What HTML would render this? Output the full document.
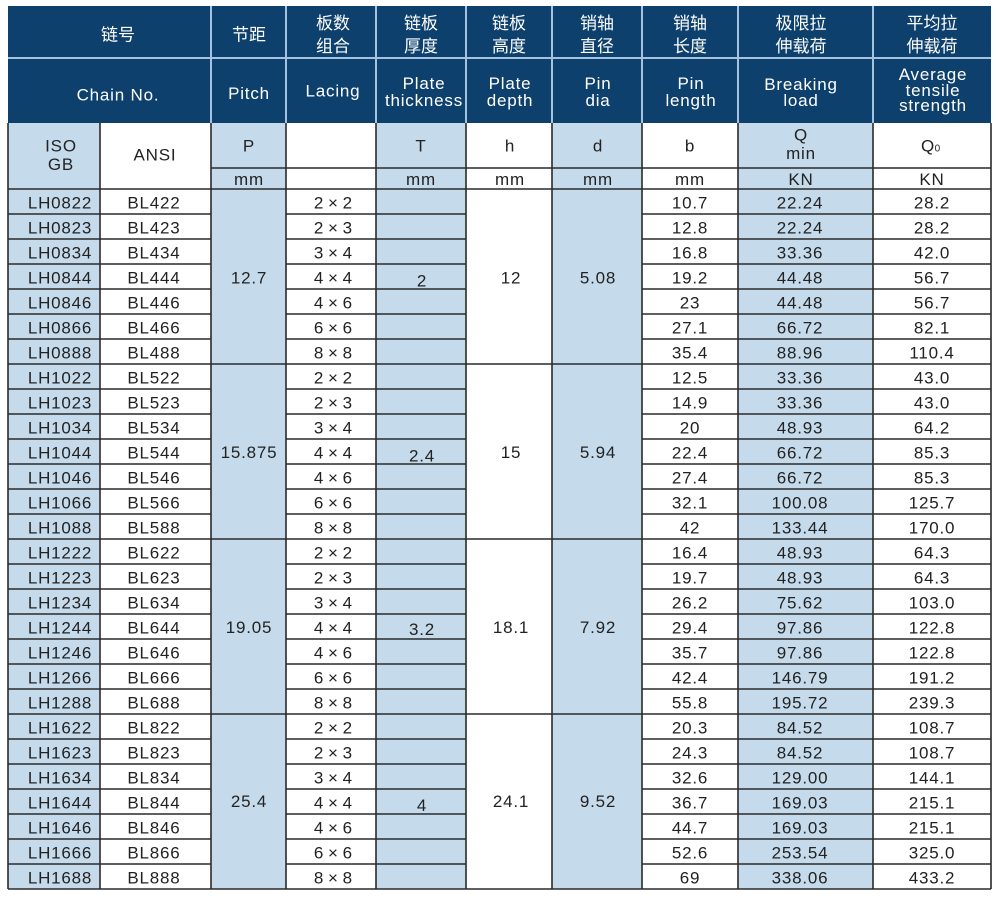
<!DOCTYPE html>
<html>
<head>
<meta charset="utf-8">
<style>
html,body{margin:0;padding:0;background:#fff;}
svg{display:block;}
.h{font-family:"Liberation Sans","Noto Sans CJK SC",sans-serif;font-size:17px;fill:#fff;text-anchor:middle;}
.he{font-family:"Liberation Sans",sans-serif;font-size:17px;fill:#fff;text-anchor:middle;letter-spacing:0.8px;}
.t{font-family:"Liberation Sans",sans-serif;font-size:17px;fill:#222;text-anchor:middle;letter-spacing:0.8px;}
.l{font-family:"Liberation Sans",sans-serif;font-size:17px;fill:#222;text-anchor:middle;}
</style>
</head>
<body>
<svg width="1000" height="903" viewBox="0 0 1000 903" xmlns="http://www.w3.org/2000/svg">
<rect x="0" y="0" width="1000" height="903" fill="#fff"/>
<!-- header -->
<rect x="8" y="6" width="983" height="117" fill="#0d406c"/>
<g stroke="#a3c3de" stroke-width="2">
<line x1="8" y1="58" x2="991" y2="58"/>
<line x1="211" y1="6" x2="211" y2="123"/>
<line x1="286" y1="6" x2="286" y2="123"/>
<line x1="376" y1="6" x2="376" y2="123"/>
<line x1="466" y1="6" x2="466" y2="123"/>
<line x1="552" y1="6" x2="552" y2="123"/>
<line x1="642" y1="6" x2="642" y2="123"/>
<line x1="738" y1="6" x2="738" y2="123"/>
<line x1="873" y1="6" x2="873" y2="123"/>
</g>
<!-- header chinese -->
<text class="h" x="118" y="40.5">链号</text>
<text class="h" x="249" y="40.5">节距</text>
<text class="h" x="333" y="29">板数</text><text class="h" x="333" y="52">组合</text>
<text class="h" x="421" y="29">链板</text><text class="h" x="421" y="52">厚度</text>
<text class="h" x="509" y="29">链板</text><text class="h" x="509" y="52">高度</text>
<text class="h" x="597" y="29">销轴</text><text class="h" x="597" y="52">直径</text>
<text class="h" x="690" y="29">销轴</text><text class="h" x="690" y="52">长度</text>
<text class="h" x="801" y="29">极限拉</text><text class="h" x="801" y="52">伸载荷</text>
<text class="h" x="932" y="29">平均拉</text><text class="h" x="932" y="52">伸载荷</text>
<!-- header english -->
<text class="he" x="118" y="100.5">Chain No.</text>
<text class="he" x="249" y="99">Pitch</text>
<text class="he" x="333" y="96.5">Lacing</text>
<text class="he" x="424" y="89">Plate</text><text class="he" x="424" y="106">thickness</text>
<text class="he" x="510" y="89">Plate</text><text class="he" x="510" y="106">depth</text>
<text class="he" x="598" y="89">Pin</text><text class="he" x="598" y="106">dia</text>
<text class="he" x="691" y="89">Pin</text><text class="he" x="691" y="106">length</text>
<text class="he" x="801" y="90">Breaking</text><text class="he" x="801" y="106">load</text>
<text class="he" x="933" y="80">Average</text><text class="he" x="933" y="96">tensile</text><text class="he" x="933" y="111">strength</text>
<!-- body fills -->
<g fill="#c5dbec">
<rect x="8" y="123" width="92" height="766"/>
<rect x="211" y="123" width="75" height="766"/>
<rect x="376" y="123" width="90" height="766"/>
<rect x="552" y="123" width="90" height="766"/>
<rect x="738" y="123" width="135" height="766"/>
</g>
<!-- body lines -->
<g stroke="#2a2a2a" stroke-width="1.6" fill="none">
<path d="M8 123V889M100 123V889M211 123V889M286 123V889M376 123V889M466 123V889M552 123V889M642 123V889M738 123V889M873 123V889M991 123V889"/>
<path d="M211 168H991M8 189H991M8 889H991"/>
<path d="M8 214H211M286 214H466M642 214H991
M8 239H211M286 239H466M642 239H991
M8 264H211M286 264H466M642 264H991
M8 289H211M286 289H466M642 289H991
M8 314H211M286 314H466M642 314H991
M8 339H211M286 339H466M642 339H991
M8 364H991
M8 389H211M286 389H466M642 389H991
M8 414H211M286 414H466M642 414H991
M8 439H211M286 439H466M642 439H991
M8 464H211M286 464H466M642 464H991
M8 489H211M286 489H466M642 489H991
M8 514H211M286 514H466M642 514H991
M8 539H991
M8 564H211M286 564H466M642 564H991
M8 589H211M286 589H466M642 589H991
M8 614H211M286 614H466M642 614H991
M8 639H211M286 639H466M642 639H991
M8 664H211M286 664H466M642 664H991
M8 689H211M286 689H466M642 689H991
M8 714H991
M8 739H211M286 739H466M642 739H991
M8 764H211M286 764H466M642 764H991
M8 789H211M286 789H466M642 789H991
M8 814H211M286 814H466M642 814H991
M8 839H211M286 839H466M642 839H991
M8 864H211M286 864H466M642 864H991"/>
</g>
<!-- symbol row -->
<text class="t" x="61" y="151.5">ISO</text>
<text class="t" x="61" y="170">GB</text>
<text class="t" x="155" y="160.5">ANSI</text>
<text class="t" x="249" y="151.5">P</text>
<text class="t" x="421" y="151.5">T</text>
<text class="t" x="510" y="151.5">h</text>
<text class="t" x="598" y="151.5">d</text>
<text class="t" x="690" y="151.5">b</text>
<text class="t" x="801" y="140.5">Q</text>
<text class="t" x="801" y="159">min</text>
<text class="t" x="931" y="151.5">Q<tspan font-size="10" dx="-0.5">0</tspan></text>
<text class="t" x="249" y="185">mm</text>
<text class="t" x="421" y="185">mm</text>
<text class="t" x="510" y="185">mm</text>
<text class="t" x="598" y="185">mm</text>
<text class="t" x="690" y="185">mm</text>
<text class="t" x="801" y="185">KN</text>
<text class="t" x="932" y="185">KN</text>
<!-- ISO column -->
<g class="t">
<text class="t" x="60" y="208.5">LH0822</text>
<text class="t" x="60" y="233.5">LH0823</text>
<text class="t" x="60" y="258.5">LH0834</text>
<text class="t" x="60" y="283.5">LH0844</text>
<text class="t" x="60" y="308.5">LH0846</text>
<text class="t" x="60" y="333.5">LH0866</text>
<text class="t" x="60" y="358.5">LH0888</text>
<text class="t" x="60" y="383.5">LH1022</text>
<text class="t" x="60" y="408.5">LH1023</text>
<text class="t" x="60" y="433.5">LH1034</text>
<text class="t" x="60" y="458.5">LH1044</text>
<text class="t" x="60" y="483.5">LH1046</text>
<text class="t" x="60" y="508.5">LH1066</text>
<text class="t" x="60" y="533.5">LH1088</text>
<text class="t" x="60" y="558.5">LH1222</text>
<text class="t" x="60" y="583.5">LH1223</text>
<text class="t" x="60" y="608.5">LH1234</text>
<text class="t" x="60" y="633.5">LH1244</text>
<text class="t" x="60" y="658.5">LH1246</text>
<text class="t" x="60" y="683.5">LH1266</text>
<text class="t" x="60" y="708.5">LH1288</text>
<text class="t" x="60" y="733.5">LH1622</text>
<text class="t" x="60" y="758.5">LH1623</text>
<text class="t" x="60" y="783.5">LH1634</text>
<text class="t" x="60" y="808.5">LH1644</text>
<text class="t" x="60" y="833.5">LH1646</text>
<text class="t" x="60" y="858.5">LH1666</text>
<text class="t" x="60" y="883.5">LH1688</text>
</g>
<!-- ANSI column -->
<g>
<text class="t" x="154" y="208.5">BL422</text>
<text class="t" x="154" y="233.5">BL423</text>
<text class="t" x="154" y="258.5">BL434</text>
<text class="t" x="154" y="283.5">BL444</text>
<text class="t" x="154" y="308.5">BL446</text>
<text class="t" x="154" y="333.5">BL466</text>
<text class="t" x="154" y="358.5">BL488</text>
<text class="t" x="154" y="383.5">BL522</text>
<text class="t" x="154" y="408.5">BL523</text>
<text class="t" x="154" y="433.5">BL534</text>
<text class="t" x="154" y="458.5">BL544</text>
<text class="t" x="154" y="483.5">BL546</text>
<text class="t" x="154" y="508.5">BL566</text>
<text class="t" x="154" y="533.5">BL588</text>
<text class="t" x="154" y="558.5">BL622</text>
<text class="t" x="154" y="583.5">BL623</text>
<text class="t" x="154" y="608.5">BL634</text>
<text class="t" x="154" y="633.5">BL644</text>
<text class="t" x="154" y="658.5">BL646</text>
<text class="t" x="154" y="683.5">BL666</text>
<text class="t" x="154" y="708.5">BL688</text>
<text class="t" x="154" y="733.5">BL822</text>
<text class="t" x="154" y="758.5">BL823</text>
<text class="t" x="154" y="783.5">BL834</text>
<text class="t" x="154" y="808.5">BL844</text>
<text class="t" x="154" y="833.5">BL846</text>
<text class="t" x="154" y="858.5">BL866</text>
<text class="t" x="154" y="883.5">BL888</text>
</g>
<!-- merged columns -->
<text class="t" x="249" y="283.5">12.7</text>
<text class="t" x="249" y="458">15.875</text>
<text class="t" x="249" y="633">19.05</text>
<text class="t" x="249" y="807">25.4</text>
<text class="t" x="422" y="286.5">2</text>
<text class="t" x="422" y="461.5">2.4</text>
<text class="t" x="422" y="635">3.2</text>
<text class="t" x="422" y="811">4</text>
<text class="t" x="511" y="283.5">12</text>
<text class="t" x="511" y="458">15</text>
<text class="t" x="511" y="633">18.1</text>
<text class="t" x="511" y="807">24.1</text>
<text class="t" x="598" y="283.5">5.08</text>
<text class="t" x="598" y="458">5.94</text>
<text class="t" x="598" y="633">7.92</text>
<text class="t" x="598" y="807">9.52</text>
<!-- Lacing column -->
<g>
<text class="l" x="333" y="208.5">2 × 2</text>
<text class="l" x="333" y="233.5">2 × 3</text>
<text class="l" x="333" y="258.5">3 × 4</text>
<text class="l" x="333" y="283.5">4 × 4</text>
<text class="l" x="333" y="308.5">4 × 6</text>
<text class="l" x="333" y="333.5">6 × 6</text>
<text class="l" x="333" y="358.5">8 × 8</text>
<text class="l" x="333" y="383.5">2 × 2</text>
<text class="l" x="333" y="408.5">2 × 3</text>
<text class="l" x="333" y="433.5">3 × 4</text>
<text class="l" x="333" y="458.5">4 × 4</text>
<text class="l" x="333" y="483.5">4 × 6</text>
<text class="l" x="333" y="508.5">6 × 6</text>
<text class="l" x="333" y="533.5">8 × 8</text>
<text class="l" x="333" y="558.5">2 × 2</text>
<text class="l" x="333" y="583.5">2 × 3</text>
<text class="l" x="333" y="608.5">3 × 4</text>
<text class="l" x="333" y="633.5">4 × 4</text>
<text class="l" x="333" y="658.5">4 × 6</text>
<text class="l" x="333" y="683.5">6 × 6</text>
<text class="l" x="333" y="708.5">8 × 8</text>
<text class="l" x="333" y="733.5">2 × 2</text>
<text class="l" x="333" y="758.5">2 × 3</text>
<text class="l" x="333" y="783.5">3 × 4</text>
<text class="l" x="333" y="808.5">4 × 4</text>
<text class="l" x="333" y="833.5">4 × 6</text>
<text class="l" x="333" y="858.5">6 × 6</text>
<text class="l" x="333" y="883.5">8 × 8</text>
</g>
<!-- b column -->
<g>
<text class="t" x="690" y="208.5">10.7</text>
<text class="t" x="690" y="233.5">12.8</text>
<text class="t" x="690" y="258.5">16.8</text>
<text class="t" x="690" y="283.5">19.2</text>
<text class="t" x="690" y="308.5">23</text>
<text class="t" x="690" y="333.5">27.1</text>
<text class="t" x="690" y="358.5">35.4</text>
<text class="t" x="690" y="383.5">12.5</text>
<text class="t" x="690" y="408.5">14.9</text>
<text class="t" x="690" y="433.5">20</text>
<text class="t" x="690" y="458.5">22.4</text>
<text class="t" x="690" y="483.5">27.4</text>
<text class="t" x="690" y="508.5">32.1</text>
<text class="t" x="690" y="533.5">42</text>
<text class="t" x="690" y="558.5">16.4</text>
<text class="t" x="690" y="583.5">19.7</text>
<text class="t" x="690" y="608.5">26.2</text>
<text class="t" x="690" y="633.5">29.4</text>
<text class="t" x="690" y="658.5">35.7</text>
<text class="t" x="690" y="683.5">42.4</text>
<text class="t" x="690" y="708.5">55.8</text>
<text class="t" x="690" y="733.5">20.3</text>
<text class="t" x="690" y="758.5">24.3</text>
<text class="t" x="690" y="783.5">32.6</text>
<text class="t" x="690" y="808.5">36.7</text>
<text class="t" x="690" y="833.5">44.7</text>
<text class="t" x="690" y="858.5">52.6</text>
<text class="t" x="690" y="883.5">69</text>
</g>
<!-- Q column -->
<g>
<text class="t" x="800" y="208.5">22.24</text>
<text class="t" x="800" y="233.5">22.24</text>
<text class="t" x="800" y="258.5">33.36</text>
<text class="t" x="800" y="283.5">44.48</text>
<text class="t" x="800" y="308.5">44.48</text>
<text class="t" x="800" y="333.5">66.72</text>
<text class="t" x="800" y="358.5">88.96</text>
<text class="t" x="800" y="383.5">33.36</text>
<text class="t" x="800" y="408.5">33.36</text>
<text class="t" x="800" y="433.5">48.93</text>
<text class="t" x="800" y="458.5">66.72</text>
<text class="t" x="800" y="483.5">66.72</text>
<text class="t" x="800" y="508.5">100.08</text>
<text class="t" x="800" y="533.5">133.44</text>
<text class="t" x="800" y="558.5">48.93</text>
<text class="t" x="800" y="583.5">48.93</text>
<text class="t" x="800" y="608.5">75.62</text>
<text class="t" x="800" y="633.5">97.86</text>
<text class="t" x="800" y="658.5">97.86</text>
<text class="t" x="800" y="683.5">146.79</text>
<text class="t" x="800" y="708.5">195.72</text>
<text class="t" x="800" y="733.5">84.52</text>
<text class="t" x="800" y="758.5">84.52</text>
<text class="t" x="800" y="783.5">129.00</text>
<text class="t" x="800" y="808.5">169.03</text>
<text class="t" x="800" y="833.5">169.03</text>
<text class="t" x="800" y="858.5">253.54</text>
<text class="t" x="800" y="883.5">338.06</text>
</g>
<!-- Q0 column -->
<g>
<text class="t" x="932" y="208.5">28.2</text>
<text class="t" x="932" y="233.5">28.2</text>
<text class="t" x="932" y="258.5">42.0</text>
<text class="t" x="932" y="283.5">56.7</text>
<text class="t" x="932" y="308.5">56.7</text>
<text class="t" x="932" y="333.5">82.1</text>
<text class="t" x="932" y="358.5">110.4</text>
<text class="t" x="932" y="383.5">43.0</text>
<text class="t" x="932" y="408.5">43.0</text>
<text class="t" x="932" y="433.5">64.2</text>
<text class="t" x="932" y="458.5">85.3</text>
<text class="t" x="932" y="483.5">85.3</text>
<text class="t" x="932" y="508.5">125.7</text>
<text class="t" x="932" y="533.5">170.0</text>
<text class="t" x="932" y="558.5">64.3</text>
<text class="t" x="932" y="583.5">64.3</text>
<text class="t" x="932" y="608.5">103.0</text>
<text class="t" x="932" y="633.5">122.8</text>
<text class="t" x="932" y="658.5">122.8</text>
<text class="t" x="932" y="683.5">191.2</text>
<text class="t" x="932" y="708.5">239.3</text>
<text class="t" x="932" y="733.5">108.7</text>
<text class="t" x="932" y="758.5">108.7</text>
<text class="t" x="932" y="783.5">144.1</text>
<text class="t" x="932" y="808.5">215.1</text>
<text class="t" x="932" y="833.5">215.1</text>
<text class="t" x="932" y="858.5">325.0</text>
<text class="t" x="932" y="883.5">433.2</text>
</g>
</svg>
</body>
</html>
